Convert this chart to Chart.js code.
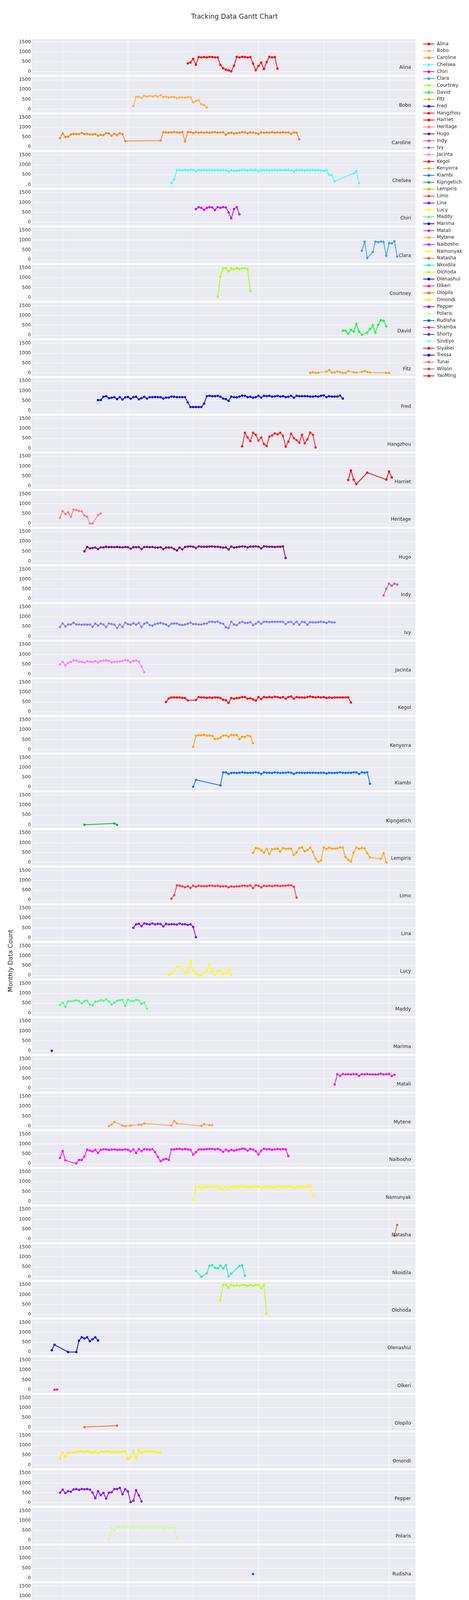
<!DOCTYPE html>
<html>
<head>
<meta charset="utf-8">
<title>Tracking Data Gantt Chart</title>
<script src="https://cdn.jsdelivr.net/npm/chart.js@4.4.1/dist/chart.umd.min.js"></script>
<style>
  html, body { margin: 0; padding: 0; background: #ffffff; overflow: hidden; }
  #wrap { width: 1200px; height: 4900px; }
  #myChart { display: block; width: 1200px; height: 4900px; }
</style>
</head>
<body>
<div id="wrap"><canvas id="myChart" width="1200" height="4900"></canvas></div>
<script>
const _ = null; // month without a value (line spans it)

const names = ['Alina', 'Bobo', 'Caroline', 'Chelsea', 'Chiri', 'Clara', 'Courtney', 'David', 'Fitz', 'Fred',
  'Hangzhou', 'Harriet', 'Heritage', 'Hugo', 'Indy', 'Ivy', 'Jacinta', 'Kegol', 'Kenyorra', 'Kiambi',
  'Kipngetich', 'Lempiris', 'Limo', 'Lina', 'Lucy', 'Maddy', 'Marima', 'Matali', 'Mytene', 'Naibosho',
  'Namunyak', 'Natasha', 'Nkoidila', 'Olchoda', 'Olenashui', 'Olkeri', 'Olopilo', 'Omondi', 'Pepper', 'Polaris',
  'Rudisha', 'Shamba', 'Shorty', 'Sindiyo', 'Siyabei', 'Tressa', 'Tunai', 'Wilson', 'YaoMing'];

const colors = ['#ff0000', '#ffb04d', '#ff8811', '#40ffff', '#cc00ff', '#33a1ff', '#aaff00', '#00ff33', '#f5a623', '#0000ff',
  '#ff1a1a', '#f00000', '#ff8080', '#800080', '#c8609e', '#8080ff', '#ff80ff', '#ff0000', '#ffa500', '#0a75ff',
  '#00b050', '#ffa500', '#ff3b3b', '#8800ff', '#ffff00', '#4dff80', '#0000ff', '#e620c8', '#ff9f40', '#ff00ff',
  '#ffff00', '#c87040', '#1af0c0', '#bbff00', '#0000ff', '#ff1493', '#ff6a10', '#fff000', '#8b00ff', '#d0ff90',
  '#0050ff', '#e020c0', '#5530b0', '#80ffff', '#ff0000', '#0000ff', '#ff6480', '#d04a60', '#e81010'];

// first month of each series; values below are consecutive months from there
const starts = ['2015-11', '2014-03', '2011-12', '2015-05', '2016-02', '2021-03', '2016-10', '2020-08', '2019-08', '2013-02',
  '2017-07', '2020-10', '2011-12', '2012-09', '2021-11', '2011-12', '2011-12', '2015-03', '2016-01', '2016-01',
  '2012-09', '2017-11', '2015-05', '2014-03', '2015-04', '2011-12', '2011-09', '2020-05', '2013-06', '2011-12',
  '2016-01', '2022-03', '2016-02', '2016-11', '2011-09', '2011-10', '2012-09', '2011-12', '2011-12', '2013-06',
  '2017-11', '2020-06', '2016-06', '2011-12', '2011-09', '2015-11', '2013-08', '2022-02', '2011-12'];

const alina = [420, 460, 650, 350, 740, 720, 740, 720, 750, 740, 720, 720, 340, 170, 100, 60, 10, 300, 750, 720,
  750, 740, 720, 740, 410, 70, 290, 460, 130, 480, 750, 720, 740, 150];
const bobo = [170, 630, 630, 570, 680, 640, 680, 650, 690, 640, 720, 620, 650, 600, 620, 620, 560, 600, 600, 590,
  620, 600, 360, 420, 450, 250, 220, 90];
const caroline = [450, 680, 510, 520, 630, 660, 650, 650, 710, 650, 660, 630, 630, 650, 570, 620, 600, 690, 680, 570,
  670, 600, 690, 650, 300,
  _, _, _, _, _, _, _, _, _, _, _, _,
  320, 750, 730, 730, 730, 750, 730, 720, 750, 280, 750, 750,
  700, 750, 720, 740, 720, 740, 720, 740, 750, 720, 730, 740,
  620, 700, 720, 680, 700, 720, 750, 740, 690, 740, 720, 700,
  660, 740, 720, 730, 720, 750, 720, 740, 720, 740, 720, 740,
  660, 740, 720, 380];
const chelsea = [70, 270, 740, 740, 730, 740, 730, 750,
  740, 680, 740, 730, 740, 730, 740, 740, 730, 740, 730, 740,
  720, 660, 730, 700, 710, 720, 740, 740, 720, 740, 730, 740,
  670, 740, 730, 740, 720, 730, 740, 730, 740, 730, 740, 740,
  730, 670, 740, 730, 740, 720, 740, 730, 740, 730, 740, 720,
  700, 740, 490, 470, 170, _, _, _, _, _, _, 570, 680, 70];
const chiri = [670, 770, 730, 630, 730, 770, 750, 620, 770, 730, 770, 750, 500, 200, 670, 770, 400];
const clara = [470, 920, 90, _, 400, 930, 900, 930, 910, 210, 850, 840, 950, 170];
const courtney = [50, 1070, 1480, 1490, 1330, 1490, 1430, 1490, 1450, 1490, 1490, 1450, 330];
const david = [230, 230, 80, 270, 180, 580, 180, 30, _, 130, 310, 510, 130, 530, 760, 730, 450];
const fitz = [0, 30, 0, 10, _, _, 70, 140, 20, 20, 70, 40, 0, 0, 90, _, 30, 10, _, 50, 90, 50, 20, _, _, _, _, _, 0, 0];
const fred = [530, 530, 700, 730, 630, 650, 680, 580, 680, 560, 670, 690, 600, 680, 700, 570, 630, 700, 610, 680,
  680, 690, 680, 680, 610, 660, 660, 710, 700, 680, 680, 680, 680, 410, 180, 180, 180, 180, 180, 350,
  730, 750, 730, 730, 750, 700, 610, 580, 490, 710, 680, 670, 710, 760, 750, 680, 700, 650, 680, 750,
  660, 750, 730, 750, 710, 720, 750, 710, 730, 680, 700, 750, 650, 750, 730, 730, 730, 730, 710, 710,
  730, 710, 750, 770, 680, 730, 710, 710, 710, 760, 610];
const hangzhou = [90, 780, 550, 360, 780, 680, 390, 550, 210, 110, 590, 640, 750, 700, 780, 630, 80, 330, 730, 510,
  410, 280, 680, 250, 450, 790, 680, 40];
const harriet = [300, 780, 320, 90, _, _, _, 670, _, _, _, _, _, _, 320, 730, 430];
const heritage = [290, 630, 470, 570, 330, 700, 690, 630, 620, 400, 350, 0, 0, _, 430, 510];
const hugo = [500, 720, 650, 670, 690, 620, 700, 700, 730, 710, 720, 710, 720, 710, 700, 720, 710, 630, 710, 710,
  710, 620, 720, 720, 710, 720, 690, 690, 710, 620, 690, 690, 690, 620, 550, 690, 600, 720, 740, 750,
  730, 670, 750, 730, 730, 730, 740, 750, 730, 730, 710, 690, 700, 600, 740, 690, 710, 730, 750, 740,
  700, 740, 740, 750, 730, 650, 750, 740, 730, 730, 720, 730, 730, 750, 160];
const indy = [170, 510, 770, 670, 770, 730];
const ivy = [480, 660, 510, 610, 610, 700, 610, 610, 600, 610, 600, 610, 490, 660, 560, 660, 610, 480, 660, 630,
  600, 430, 610, 480, 700, 630, 600, 680, 600, 690, 480, 650, 710, 580, 550, 630, 660, 690, 650, 610,
  530, 650, 660, 660, 600, 580, 610, 650, 700, 630, 630, 610, 610, 650, 660, 750, 750, 730, 760, 680,
  650, 470, 430, 750, 610, 580, 700, 750, 690, 690, 730, 580, 650, 750, 650, 750, 750, 730, 750, 750,
  750, 750, 750, 630, 730, 750, 630, 750, 600, 750, 730, 600, 730, 720, 720, 730, 750, 730, 690, 750,
  720, 720];
const jacinta = [490, 620, 450, 570, 620, 700, 690, 630, 630, 590, 650, 630, 620, 650, 600, 670, 690, 700, 670, 590,
  630, 630, 640, 670, 710, 700, 600, 670, 690, 630, 390, 100];
const kegol = [500, 680, 730, 730, 730, 730, 710, 700, 580, _, _, 600,
  750, 730, 730, 710, 730, 710, 730, 730, 700, 610, 590, 450, 700, 670, 700, 710, 750, 750, 670, 690,
  630, 570, 750, 650, 750, 730, 750, 730, 770, 750, 710, 750, 670, 750, 780, 670, 750, 730, 730, 720,
  750, 780, 750, 730, 750, 730, 750, 700, 730, 710, 730, 730, 730, 730, 730, 740, 470];
const kenyorra = [140, 700, 730, 720, 740, 710, 710, 690, 530, 550, 600, 710, 720, 650, 740, 730, 740, 520, 650, 640,
  720, 670, 320];
const kiambi = [20, 370, _, _, _, _, _, _, _, _, 90,
  750, 750, 670, 720, 730, 720, 730, 750, 730, 720, 730, 730, 750, 730, 670, 750, 730, 730, 720, 750,
  730, 720, 730, 730, 750, 730, 670, 730, 730, 730, 720, 730, 730, 730, 730, 720, 730, 730, 690, 730,
  720, 720, 730, 750, 730, 720, 730, 730, 750, 750, 670, 750, 730, 750, 170];
const kipngetich = [0, _, _, _, _, _, _, _, _, _, _, 70, 0];
const lempiris = [490, 730, 710, 610, 500, 690, 430, 670, 690, 700, 550, 730, 690, 700, 700, 380, 510, 730, 770, 560,
  630, 760, 530, 190, 30, 100, 760, 680, 750, 700, 700, 710, 760, 750, 270, 130, 50, 500, 760, 690,
  730, 710, 470, 250, _, _, _, 190, 470, 0];
const limo = [70, 250, 750, 730, 700, 650, 710, 620, 730, 680, 730, 710, 710, 710, 730, 730, 710, 730, 700, 700,
  710, 650, 700, 680, 700, 700, 730, 730, 710, 750, 610, 750, 730, 650, 730, 710, 730, 710, 730, 730,
  710, 730, 730, 750, 750, 680, 130];
const lina = [510, 680, 710, 590, 730, 700, 680, 730, 680, 710, 700, 580, 710, 680, 690, 690, 670, 730, 680, 690,
  650, 690, 550, 30];
const lucy = [10, 70, _, 450, 430, _, 140, 170, 750, 230, 90, 0, 0, _, 210, 570, 190, 10, 240, 230, 60, 110, 290, 10];
const maddy = [410, 530, 320, 600, 600, 620, 650, 620, 490, 610, 630, 430, 400, 580, 600, 650, 630, 700, 600, 430,
  530, 620, 650, 680, 370, 690, 620, 610, 670, 650, 470, 530, 230];
const marima = [0];
const matali = [200, 720, 630, 730, 710, 720, 710, 730, 720, 640, 720, 710, 730, 710, 710, 710, 710, 740, 710, 720,
  730, 630, 690];
const mytene = [0, 80, 210, _, _, 30, 0, _, 30, _, _, 70, 70, 130, _, _, _, _, _, _, _, _, _, 30, 260, 130,
  _, _, _, _, _, _, _, _, 10, 100, _, 50, 50];
const naibosho = [290, 650, 170, _, _, _,
  20, 190, 190, 370, 720, 670, 630, 710, 550, 710, 730, 730, 710, 720, 730, 710, 720, 710, 730, 710,
  630, 730, 550, 740, 640, 740, 730, 710, 740, 590, 350, 130, 210, 250, 190, 730, 730, 750, 750, 730,
  750, 730, 710, 460, 590, 730, 730, 730, 740, 750, 750, 730, 750, 710, 610, 720, 640, 710, 670, 710,
  730, 760, 750, 670, 750, 720, 640, 470, 670, 760, 730, 740, 710, 730, 750, 730, 740, 730, 390];
const namunyak = [90, 700, 750, 680, 750, 720, 750, 750, 770, 770, 680, 610, 730, 650, 750, 730, 750, 730, 770, 750,
  720, 730, 750, 770, 750, 670, 750, 730, 750, 730, 700, 780, 750, 750, 730, 770, 750, 670, 770, 730,
  750, 720, 770, 750, 280];
const natasha = [170, 720];
const nkoidila = [290, _, 0, _, 170, 550, 590, 450, 420, 570, 420, 590, 20, 150, _, _, 550, 590, 50];
const olchoda = [710, 1500, 1500, 1350, 1510, 1450, 1480, 1450, 1500, 1500, 1450, 1500, 1450, 1500, 1500, 1330, 1510, 30];
const olenashui = [90, 370, _, _, _, _, 0, _, _, 0, 580, 750, 690, 750, 550, 650, 750, 590];
const olkeri = [0, 10];
const olopilo = [10, _, _, _, _, _, _, _, _, _, _, _, 90];
const omondi = [330, 650, 420, 620, 640, 640, 670, 690, 710, 670, 700, 670, 640, 670, 600, 690, 670, 690, 690, 650,
  650, 670, 650, 690, 690, 300, 390, 720, 340, 750, 620, 690, 690, 690, 720, 670, 620, 640];
const pepper = [510, 660, 490, 580, 560, 670, 690, 650, 690, 680, 690, 660, 510, 230, 580, 390, 500, 210, 510, 530,
  690, 690, 750, 430, 680, 570, 30, 100, 630, 370, 60];
const polaris = [50, 650, 480, 670, 670, 680, 700, 700, 630, 700, 690, 700, 610, 690, 710, 680, 680, 690, 670, 670,
  600, 690, 630, 670, 650, 90];
const rudisha = [200];
const shamba = [230];
const shorty = [0, _, _, _, _, _, _, _, _, _, _, _, _, _, _, _, _, _, _, _, _, _, _, _,
  0, 30, _, _, _, _, _, _, _, _, _, _, _, _, _, _, _, _, _, _, 20, 10, _, _, 0];
const sindiyo = [480, 670, 550, 620, 620, 700, 670, 670, 670, 670, 710, 670, 620, 700, 600, 700, 600, 670, 630, 600,
  700, 670, 670, 690, 700, 720, 620, 700, 620, 730, 510];
const siyabei = [0, _, _, 30, 490, 320, 150, 690, 620, 690, 690, 120];
const tressa = [410, 700, 520, 570, 650, 670, 720, 630, 650, 620, 630, 670, 590, 650, 520, 540, 230, 370, 420, 590,
  690, 610, 490, 690, 540, 270, 500, 470, 610, 590, 650, 630, 630, 650, 590, 420, 320, 210, 0, 300,
  190, 210, 420, _, _, _, _, 290, 170, 220, 70];
const tunai = [50];
const wilson = [5];
const yaoming = [200, 200, 550, 610, 670, 630, 670, 630, 670, 110];

const series = [alina, bobo, caroline, chelsea, chiri, clara, courtney, david, fitz, fred,
  hangzhou, harriet, heritage, hugo, indy, ivy, jacinta, kegol, kenyorra, kiambi,
  kipngetich, lempiris, limo, lina, lucy, maddy, marima, matali, mytene, naibosho,
  namunyak, natasha, nkoidila, olchoda, olenashui, olkeri, olopilo, omondi, pepper, polaris,
  rudisha, shamba, shorty, sindiyo, siyabei, tressa, tunai, wilson, yaoming];

const yTicks = [0, 500, 1000, 1500];
const xTickYears = [2012, 2014, 2016, 2018, 2020, 2022];

// layout
const AREA_LEFT = 81;
const LEGEND_SPACE = 137;   // right of the plotting area
const GAP = 4.7;            // white gap between rows
const TEXT = '#242424';
const FONT = "'DejaVu Sans', sans-serif";

Chart.defaults.font.family = FONT;
Chart.defaults.color = TEXT;

function monthToX(s) {
  const [y, m] = s.split('-').map(Number);
  return y + (m - 1) / 12;
}

const datasets = names.map((name, i) => {
  const x0 = monthToX(starts[i]);
  return {
    label: name,
    data: series[i].map((v, k) => ({ x: x0 + k / 12, y: v })),
    xAxisID: 'x',
    yAxisID: 'y' + i,
    borderColor: colors[i],
    backgroundColor: colors[i],
    borderWidth: 2,
    pointRadius: 3,
    pointHoverRadius: 3,
    pointBorderWidth: 0,
    spanGaps: true,
    tension: 0
  };
});

const scales = {
  x: {
    type: 'linear',
    position: 'bottom',
    min: 2011.05,
    max: 2022.81,
    afterBuildTicks: axis => { axis.ticks = xTickYears.map(v => ({ value: v })); },
    afterFit: axis => { axis.height = 78.3; },
    grid: { color: '#ffffff', lineWidth: 1, drawTicks: false },
    border: { display: false },
    ticks: { padding: 0.5, maxRotation: 0, autoSkip: false, font: { size: 12 }, callback: v => 'Jan-' + v },
    title: { display: true, text: 'Time', font: { size: 16 }, padding: { top: 0, bottom: 28.4 } }
  },
  // empty axis on the right that only holds the room for the legend
  legendRoom: {
    type: 'linear',
    position: 'right',
    min: 0,
    max: 1,
    afterFit: axis => { axis.width = LEGEND_SPACE; },
    grid: { display: false },
    border: { display: false },
    ticks: { display: false }
  }
};
// left axes that are defined later sit higher in the stack, so go backwards
for (let i = names.length - 1; i >= 0; i--) {
  scales['y' + i] = {
    type: 'linear',
    position: 'left',
    stack: 'rows',
    stackWeight: 1,
    min: -213,
    max: 1699,
    afterBuildTicks: axis => { axis.ticks = yTicks.map(v => ({ value: v })); },
    afterFit: axis => { axis.width = AREA_LEFT; },
    grid: { color: '#ffffff', lineWidth: 1, drawTicks: false },
    border: { display: false },
    ticks: { padding: 2, autoSkip: false, font: { size: 12 }, callback: v => String(v) },
    title: {
      display: i === 24,
      text: 'Monthly Data Count',
      font: { size: 16 },
      padding: { top: 18, bottom: 0 }
    }
  };
}

const panels = {
  id: 'panels',
  beforeDraw(chart) {
    const { ctx, chartArea } = chart;
    ctx.save();
    ctx.fillStyle = '#eaeaf2';
    names.forEach((n, i) => {
      const s = chart.scales['y' + i];
      ctx.fillRect(chartArea.left, s.top + GAP / 2, chartArea.right - chartArea.left, s.bottom - s.top - GAP);
    });
    ctx.restore();
  },
  afterDatasetsDraw(chart) {
    const { ctx, chartArea } = chart;
    ctx.save();
    ctx.font = '12px ' + FONT;
    ctx.fillStyle = TEXT;
    ctx.textAlign = 'right';
    ctx.textBaseline = 'middle';
    names.forEach((n, i) => {
      const s = chart.scales['y' + i];
      ctx.fillText(n, chartArea.right - 11.5, s.getPixelForValue(0) - 10);
    });
    ctx.restore();
  },
  // legend: short line with a dot, then the name
  afterDraw(chart) {
    const { ctx, chartArea } = chart;
    const x0 = chartArea.right + 19.7;
    ctx.save();
    ctx.font = '12px ' + FONT;
    ctx.textAlign = 'left';
    ctx.textBaseline = 'middle';
    names.forEach((n, i) => {
      const y = chartArea.top + 15 + i * 17.7;
      ctx.strokeStyle = colors[i];
      ctx.lineWidth = 2;
      ctx.beginPath(); ctx.moveTo(x0, y); ctx.lineTo(x0 + 29, y); ctx.stroke();
      ctx.fillStyle = colors[i];
      ctx.beginPath(); ctx.arc(x0 + 14.5, y, 3.5, 0, Math.PI * 2); ctx.fill();
      ctx.fillStyle = TEXT;
      ctx.fillText(n, x0 + 35, y);
    });
    ctx.restore();
  }
};

const ctx = document.getElementById('myChart');

new Chart(ctx, {
  type: 'line',
  data: { datasets },
  options: {
    responsive: false,
    maintainAspectRatio: false,
    animation: false,
    devicePixelRatio: 1,
    events: [],
    layout: { padding: 0 },
    scales,
    plugins: {
      title: {
        display: true,
        text: 'Tracking Data Gantt Chart',
        font: { size: 17, weight: 'normal' },
        color: TEXT,
        padding: { top: 33.1, bottom: 44.15 }
      },
      legend: { display: false },
      tooltip: { enabled: false }
    }
  },
  plugins: [panels]
});
</script>
</body>
</html>
